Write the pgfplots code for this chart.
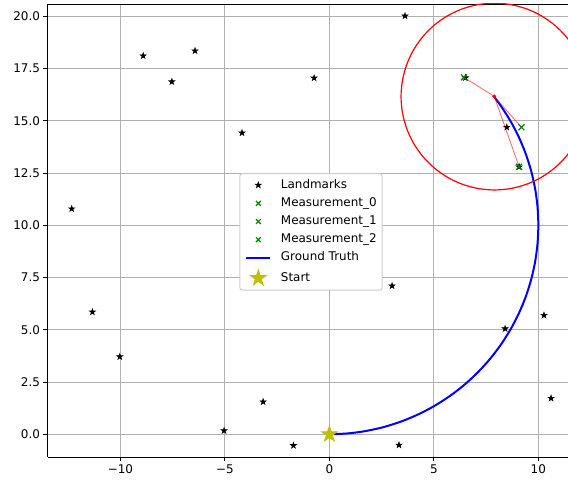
\documentclass[border=0pt]{standalone}
\usepackage{fontspec}
\setmainfont{DejaVu Sans}
\usepackage{pgfplots}
\pgfplotsset{compat=1.18}
\definecolor{mgreen}{rgb}{0,0.5,0}
\definecolor{myellow}{rgb}{0.75,0.75,0}
\definecolor{mgrid}{HTML}{B0B0B0}
\definecolor{mlegend}{HTML}{CCCCCC}
\pgfdeclareplotmark{mstar}{%
  \pgfpathmoveto{\pgfpointpolar{90}{\pgfplotmarksize}}%
  \pgfpathlineto{\pgfpointpolar{126}{0.381966\pgfplotmarksize}}%
  \pgfpathlineto{\pgfpointpolar{162}{\pgfplotmarksize}}%
  \pgfpathlineto{\pgfpointpolar{198}{0.381966\pgfplotmarksize}}%
  \pgfpathlineto{\pgfpointpolar{234}{\pgfplotmarksize}}%
  \pgfpathlineto{\pgfpointpolar{270}{0.381966\pgfplotmarksize}}%
  \pgfpathlineto{\pgfpointpolar{306}{\pgfplotmarksize}}%
  \pgfpathlineto{\pgfpointpolar{342}{0.381966\pgfplotmarksize}}%
  \pgfpathlineto{\pgfpointpolar{18}{\pgfplotmarksize}}%
  \pgfpathlineto{\pgfpointpolar{54}{0.381966\pgfplotmarksize}}%
  \pgfpathclose
  \pgfusepathqfillstroke
}
\pgfplotstableread{
x y
-12.33 10.79
-8.91 18.11
-7.54 16.87
-6.43 18.35
-4.18 14.42
-0.73 17.05
3.62 20.02
6.51 17.06
8.49 14.69
9.08 12.80
-11.34 5.85
-10.03 3.71
3.00 7.10
8.41 5.05
10.27 5.69
10.61 1.72
-3.17 1.55
-5.04 0.17
-1.72 -0.54
3.33 -0.52
}\landmarks
\begin{document}
\begin{tikzpicture}
\useasboundingbox (-47.7bp,-25bp) rectangle (520.3bp,457bp);
\begin{axis}[
  at={(0,0)}, anchor=south west,
  scale only axis, width=520.3bp, height=453bp,
  xmin=-13.48, xmax=11.42, ymin=-1.09, ymax=20.59,
  axis x line=box, axis y line=left,
  axis line style={-, line width=0.96bp, black},
  xtick={-10,-5,0,5,10}, xticklabels={−10,−5,0,5,10},
  ytick={0,2.5,5,7.5,10,12.5,15,17.5,20},
  yticklabels={0.0,2.5,5.0,7.5,10.0,12.5,15.0,17.5,20.0},
  xtick pos=left, ytick pos=left,
  tick align=outside, major tick length=4.2bp,
  every tick/.style={black, line width=0.96bp},
  grid=major, major grid style={mgrid, line width=0.96bp},
  tick label style={font=\fontsize{12}{14}\selectfont, black},
  legend style={at={(0.506,0.497)}, anchor=center, draw=mlegend, line width=0.96bp,
    rounded corners=2.4bp, fill=white, inner sep=5.5bp,
    font=\fontsize{12}{14}\selectfont, row sep=6.2bp, column sep=9.6bp,
    nodes={inner sep=0pt, text height=9bp, text depth=3bp}},
  legend cell align=left,
  legend image code/.code={\draw[mark repeat=2,mark phase=2,#1] plot coordinates {(0bp,0bp) (12bp,0bp) (24bp,0bp)};},
]
\addplot[only marks, mark=mstar, mark size=3.1bp, mark options={fill=black, draw=black, line width=0.6bp, sharp corners}] table[x=x,y=y] {\landmarks};
\addlegendentry{Landmarks}
\addplot[only marks, mark=x, mark size=4.2bp, mgreen, mark options={line width=1.2bp, sharp corners}, legend image post style={mark size=3.4bp}] coordinates {(6.44,17.08)};
\addlegendentry{Measurement\_0}
\addplot[only marks, mark=x, mark size=4.2bp, mgreen, mark options={line width=1.2bp, sharp corners}, legend image post style={mark size=3.4bp}] coordinates {(9.19,14.69)};
\addlegendentry{Measurement\_1}
\addplot[only marks, mark=x, mark size=4.2bp, mgreen, mark options={line width=1.2bp, sharp corners}, legend image post style={mark size=3.4bp}] coordinates {(9.08,12.80)};
\addlegendentry{Measurement\_2}
\addplot[blue, line width=2bp, smooth, no marks, sharp corners] coordinates {
(0,0) (0.8716,0.0381) (1.7365,0.1519) (2.5882,0.3407) (3.4202,0.6031) (4.2262,0.9369)
(5.0000,1.3397) (5.7358,1.8085) (6.4279,2.3396) (7.0711,2.9289) (7.6604,3.5721)
(8.1915,4.2642) (8.6603,5.0000) (9.0631,5.7738) (9.3969,6.5798) (9.6593,7.4118)
(9.8481,8.2635) (9.9619,9.1284) (10,10) (9.9619,10.8716) (9.8481,11.7365)
(9.6593,12.5882) (9.3969,13.4202) (9.0631,14.2262) (8.6603,15.0000) (8.1915,15.7358)
(7.8801,16.1566)};
\addlegendentry{Ground Truth}
\addplot[only marks, mark=mstar, mark size=8bp, myellow, mark options={fill=myellow, draw=myellow, line width=1bp, sharp corners}] coordinates {(0,0)};
\addlegendentry{Start}
% sensor range circle
\addplot[red, line width=1.2bp, smooth, no marks, forget plot] coordinates {
(12.37,16.16) (12.302,16.936) (12.100,17.689) (11.771,18.395) (11.324,19.033)
(10.773,19.584) (10.135,20.031) (9.429,20.360) (8.676,20.562) (7.90,20.63)
(7.124,20.562) (6.371,20.360) (5.665,20.031) (5.027,19.584) (4.476,19.033)
(4.029,18.395) (3.700,17.689) (3.498,16.936) (3.43,16.16) (3.498,15.384)
(3.700,14.631) (4.029,13.925) (4.476,13.287) (5.027,12.736) (5.665,12.289)
(6.371,11.960) (7.124,11.758) (7.90,11.69) (8.676,11.758) (9.429,11.960)
(10.135,12.289) (10.773,12.736) (11.324,13.287) (11.771,13.925) (12.100,14.631)
(12.302,15.384) (12.37,16.16)};
% measurement rays
\addplot[red, opacity=0.6, line width=0.8bp, no marks, forget plot] coordinates {(7.89,16.17) (6.44,17.08)};
\addplot[red, opacity=0.6, line width=0.8bp, no marks, forget plot] coordinates {(7.89,16.17) (9.19,14.69)};
\addplot[red, opacity=0.6, line width=0.8bp, no marks, forget plot] coordinates {(7.89,16.17) (9.08,12.80)};
% robot position
\addplot[only marks, mark=*, mark size=1.8bp, red, forget plot] coordinates {(7.89,16.17)};
\end{axis}
\end{tikzpicture}
\end{document}
